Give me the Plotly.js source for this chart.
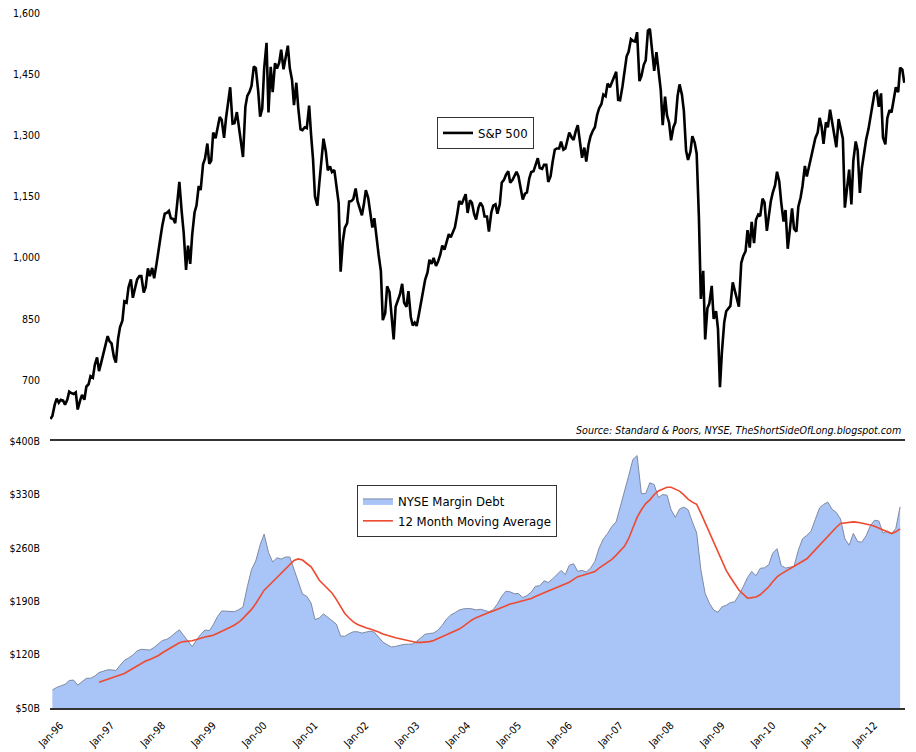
<!DOCTYPE html>
<html>
<head>
<meta charset="utf-8">
<script src="https://cdn.plot.ly/plotly-3.0.1.min.js"></script>
<style>html,body{margin:0;padding:0;background:#fff;}#chart{width:916px;height:752px;}</style>
</head>
<body>
<div id="chart"></div>
<script>
// ---------- S&P 500 (twice-monthly closes, 1st and 15th of each month) ----------
const spYears = [1996,1997,1998,1999,2000,2001,2002,2003,2004,2005,2006,2007,2008,2009,2010,2011,2012];
const sp1996 = [605,612,640,655,645,652,650,640,652,672,668,666,670,628,650,664,652,684,690,710,706,738,756,722];
const sp1997 = [745,765,786,808,795,790,757,743,802,830,846,893,890,928,947,902,927,947,955,955,915,928,974,955];
const sp1998 = [975,950,985,1022,1049,1080,1108,1110,1115,1097,1095,1085,1145,1186,1112,1062,970,1030,985,1056,1111,1128,1176,1166];
const sp1999 = [1229,1243,1280,1230,1238,1307,1293,1319,1345,1338,1294,1342,1391,1418,1329,1330,1357,1318,1282,1247,1370,1397,1407,1421];
const sp2000 = [1469,1465,1409,1346,1366,1464,1527,1356,1468,1406,1477,1464,1478,1510,1462,1491,1520,1465,1436,1374,1429,1367,1315,1313];
const sp2001 = [1320,1318,1373,1301,1241,1150,1128,1183,1250,1292,1260,1214,1224,1210,1215,1181,1134,966,1040,1073,1085,1138,1139,1144];
const sp2002 = [1170,1138,1122,1104,1131,1166,1147,1111,1074,1097,1040,1007,968,847,864,930,916,870,800,880,900,910,936,890];
const sp2003 = [880,918,855,834,841,833,863,890,916,946,964,995,985,1000,980,990,1008,1030,1020,1040,1058,1050,1066,1075];
const sp2004 = [1108,1139,1131,1145,1156,1110,1141,1135,1107,1094,1123,1135,1126,1101,1101,1064,1111,1128,1131,1108,1131,1184,1191,1203];
const sp2005 = [1212,1184,1191,1201,1211,1200,1173,1143,1157,1160,1195,1210,1212,1228,1244,1220,1218,1228,1228,1186,1200,1234,1265,1268];
const sp2006 = [1268,1285,1265,1268,1287,1307,1295,1289,1311,1325,1281,1245,1270,1236,1278,1298,1312,1320,1350,1366,1377,1400,1396,1427];
const sp2007 = [1418,1430,1448,1456,1387,1386,1420,1452,1494,1505,1536,1532,1530,1553,1433,1445,1473,1484,1557,1561,1509,1458,1504,1467];
const sp2008 = [1411,1325,1395,1349,1331,1288,1320,1332,1397,1425,1400,1360,1262,1240,1260,1298,1282,1255,1099,899,968,800,876,888];
const sp2009 = [931,850,869,826,683,768,842,869,877,882,940,921,896,880,987,1004,1016,1068,1025,1088,1036,1093,1106,1102];
const sp2010 = [1145,1136,1066,1109,1138,1159,1178,1211,1187,1136,1089,1117,1022,1065,1121,1071,1064,1125,1147,1176,1225,1199,1224,1243];
const sp2011 = [1271,1293,1307,1343,1321,1279,1332,1320,1363,1337,1300,1271,1340,1316,1292,1123,1173,1216,1131,1238,1285,1263,1159,1219];
const sp2012 = [1258,1290,1316,1343,1370,1404,1408,1370,1403,1295,1278,1342,1362,1356,1390,1418,1406,1466,1461,1429];
const spByYear = [sp1996,sp1997,sp1998,sp1999,sp2000,sp2001,sp2002,sp2003,sp2004,sp2005,sp2006,sp2007,sp2008,sp2009,sp2010,sp2011,sp2012];

// ---------- NYSE margin debt ($B, monthly) ----------
const mdYears = [1996,1997,1998,1999,2000,2001,2002,2003,2004,2005,2006,2007,2008,2009,2010,2011,2012];
const md1996 = [73.6,77,79,81,86,86.7,80,84,88.9,89,92,96.5];
const md1997 = [98.5,100,100,99,106,112.5,115.5,119.5,125,127,126.5,126];
const md1998 = [129.5,134.5,138.5,140,143.5,148.5,152.5,145,138,130.5,139,146.5];
const md1999 = [152.3,151.4,159,170,177.3,177,176.3,176.3,179,182.5,209,231.5];
const md2000 = [243,264,278,254,241.5,247,245.3,248,248,232,216,199.5];
const md2001 = [196.5,187.5,166,168,173.5,169,165,160,144.4,144,147.5,150];
const md2002 = [150,148.2,149.5,150.7,149.5,142.5,136.5,133,130,130.8,132.2,133.5];
const md2003 = [133.7,133.9,137.5,142.2,146.8,147.7,148.4,152,158.6,166.5,172,175];
const md2004 = [178.6,180,180.5,180,178.6,179.5,177.5,176.3,179,186.5,196.5,203.2];
const md2005 = [202.3,199.7,200.2,194.8,197.4,202,209.7,210.2,216.8,214.6,219.2,225];
const md2006 = [230.4,225,237.2,239.2,229.2,230.5,228.4,233.3,242.2,259.6,271.7,278.8];
const md2007 = [288,294.3,312,335,354,376,381,331,331.4,345.4,343,326];
const md2008 = [330,329,310,300,311,313.5,310,294,279.5,231,200,187.5];
const md2009 = [178.5,175.5,182.6,184.7,188.3,189.2,198,209,221,229,223.5,233.1];
const md2010 = [233.9,238,253,259,236.8,233.5,235,235.7,257,272,276.4,281.8];
const md2011 = [297.5,312.5,317,320,310.7,306.3,298,272,263.5,279,268.2,267.5];
const md2012 = [276,289.2,296.2,295.3,279.3,282.1,278.7,285.5,313.9];
const mdByYear = [md1996,md1997,md1998,md1999,md2000,md2001,md2002,md2003,md2004,md2005,md2006,md2007,md2008,md2009,md2010,md2011,md2012];

// ---------- 12 month moving average ($B, monthly, starts Dec 1996) ----------
const ma1996 = [83.7]; // December only
const ma1997 = [85.8,87.8,89.6,91.6,93,95.3,98.6,101.8,105.4,108.6,111.7,113.7];
const ma1998 = [116.2,118.9,122.4,125.9,129.3,132.5,135.6,137.1,137.5,138.1,139.8,141.7];
const ma1999 = [143.2,144.3,145.4,148,150.4,153.2,156,158.9,162.5,167.5,173.5,179.3];
const ma2000 = [187,196.5,204.5,210,215.7,221.3,227,233.2,238.6,243.4,245.5,244];
const ma2001 = [239.5,235.2,227,217.5,212,206.5,200.8,192.5,183,174,168,163];
const ma2002 = [159.5,157,155.3,153.6,152,149.7,147,145,143.6,142.1,140.8,139.5];
const ma2003 = [138.2,136.9,136,136.1,136.5,137.1,138.5,141,142.8,145.5,148,150.5];
const ma2004 = [153.5,157.5,161.5,165.5,168.5,171,173.5,175.3,177.3,179.5,181.9,184.1];
const ma2005 = [186.4,187.6,189,190.6,192,193.7,196.2,199,201.4,203.5,205.6,207.8];
const ma2006 = [209.9,212.1,215,218.6,222.2,223.8,225.6,227.5,229,233.5,237.7,241.5];
const ma2007 = [245,250.5,256,262,272,285,300,310,318,323,330,334.5];
const ma2008 = [337.5,339.5,339.5,337,334.5,329.5,324,320,317,305.5,292.5,279.5];
const ma2009 = [266.6,254,241.5,230.6,221.5,212.5,204.8,199.3,194,194.7,195.6,198.5];
const ma2010 = [203.5,209,215.5,222,226,229.5,232.5,235.8,239.1,242.3,245.7,251.5];
const ma2011 = [257.5,263.8,270,276,281.3,287,292.1,293,293.5,294.1,293.5,292.5];
const ma2012 = [291.4,290,288.3,286.2,284,281.2,278.8,281,285];
const maByYear = [ma1996,ma1997,ma1998,ma1999,ma2000,ma2001,ma2002,ma2003,ma2004,ma2005,ma2006,ma2007,ma2008,ma2009,ma2010,ma2011,ma2012];

const pad = n => (n < 10 ? '0' + n : '' + n);

// S&P dates: 1st and 15th of each month
const spX = [], spY = [];
spByYear.forEach((arr, yi) => {
  arr.forEach((v, k) => {
    const m = Math.floor(k / 2) + 1;
    const d = (k % 2) ? 15 : 1;
    spX.push(spYears[yi] + '-' + pad(m) + '-' + pad(d));
    spY.push(v);
  });
});

// Monthly dates (mid-month)
const mdX = [], mdY = [];
mdByYear.forEach((arr, yi) => {
  arr.forEach((v, k) => { mdX.push(mdYears[yi] + '-' + pad(k + 1) + '-15'); mdY.push(v); });
});
const maX = [], maY = [];
maByYear.forEach((arr, yi) => {
  arr.forEach((v, k) => {
    const m = (yi === 0) ? (13 - arr.length + k) : (k + 1);
    maX.push(mdYears[yi] + '-' + pad(m) + '-15'); maY.push(v);
  });
});

const FONT = '"DejaVu Sans Condensed", "DejaVu Sans", "Liberation Sans", sans-serif';
const xRange = ['1995-12-29', '2012-10-20'];

const traces = [
  { x: spX, y: spY, type: 'scatter', mode: 'lines', name: 'S&P 500',
    line: { color: '#000000', width: 2.6 }, xaxis: 'x', yaxis: 'y', legend: 'legend' },
  { x: mdX, y: mdY, type: 'scatter', mode: 'lines', name: 'NYSE Margin Debt',
    fill: 'tozeroy', fillcolor: '#a9c4f6', line: { color: '#7f8aa3', width: 1 },
    xaxis: 'x2', yaxis: 'y2', legend: 'legend2' },
  { x: maX, y: maY, type: 'scatter', mode: 'lines', name: '12 Month Moving Average',
    line: { color: '#ee4a32', width: 1.6 }, xaxis: 'x2', yaxis: 'y2', legend: 'legend2' }
];

const layout = {
  width: 916, height: 752,
  margin: { l: 50, r: 11, t: 13, b: 44 },
  paper_bgcolor: '#ffffff', plot_bgcolor: 'rgba(0,0,0,0)',
  font: { family: FONT, size: 10.5, color: '#000' },
  showlegend: true,
  xaxis: { type: 'date', range: xRange, domain: [0, 1], anchor: 'y',
    showticklabels: false, showgrid: false, zeroline: false, showline: false, ticks: '' },
  yaxis: { domain: [0.413, 1], range: [600, 1600], tick0: 100, dtick: 150, tickformat: ',d',
    showgrid: false, zeroline: false, showline: false, ticks: '', ticklabelstandoff: 9,
    tickfont: { family: FONT, size: 10.5, color: '#000' } },
  xaxis2: { type: 'date', range: xRange, domain: [0, 1], anchor: 'y2', matches: 'x',
    tick0: '1996-01-01', dtick: 'M12', tickformat: '%b-%y', tickangle: -45,
    showline: true, mirror: true, linecolor: '#333333', linewidth: 2.2,
    showgrid: false, zeroline: false, ticks: '', ticklabelshift: 10, ticklabelstandoff: 5,
    tickfont: { family: FONT, size: 10.5, color: '#000' }, automargin: false },
  yaxis2: { domain: [0, 0.384], range: [50, 400], tick0: 50, dtick: 70,
    tickprefix: '$', ticksuffix: 'B', showgrid: false, zeroline: false, showline: false,
    ticks: '', ticklabelstandoff: 9, tickfont: { family: FONT, size: 10.5, color: '#000' } },
  legend: { x: 0.4526, y: 0.8504, xanchor: 'left', yanchor: 'top',
    bgcolor: '#ffffff', bordercolor: '#333333', borderwidth: 1,
    font: { family: FONT, size: 13, color: '#000' }, tracegroupgap: 0 },
  legend2: { x: 0.359, y: 0.3209, xanchor: 'left', yanchor: 'top',
    bgcolor: '#ffffff', bordercolor: '#333333', borderwidth: 1,
    font: { family: FONT, size: 13, color: '#000' }, tracegroupgap: 0 },
  annotations: [{
    xref: 'paper', yref: 'paper', x: 0.9977, y: 0.4, xanchor: 'right', yanchor: 'middle',
    text: '<i>Source: Standard &amp; Poors, NYSE, TheShortSideOfLong.blogspot.com</i>',
    showarrow: false, font: { family: FONT, size: 10.6, color: '#000' }
  }]
};

Plotly.newPlot('chart', traces, layout, { displayModeBar: false, staticPlot: true });
</script>
</body>
</html>
